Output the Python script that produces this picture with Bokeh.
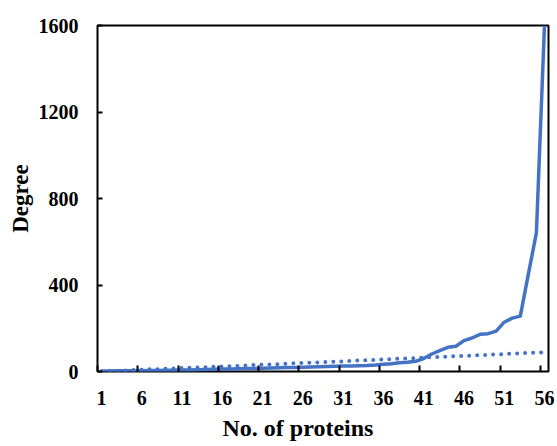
from bokeh.plotting import figure
from bokeh.models import FixedTicker, Range1d, Title
from bokeh.embed import file_html
from bokeh.resources import INLINE

# ---- data ----
proteins = [1, 2, 3, 4, 5, 6, 7, 8, 9, 10, 11, 12, 13, 14, 15, 16, 17, 18, 19, 20,
            21, 22, 23, 24, 25, 26, 27, 28, 29, 30, 31, 32, 33, 34, 35, 36, 37, 38, 39, 40,
            41, 42, 43, 44, 45, 46, 47, 48, 49, 50, 51, 52, 53, 54, 55, 56]
degree = [2, 2, 3, 3, 4, 4, 5, 5, 6, 6,
          7, 7, 8, 9, 10, 11, 12, 13, 14, 14,
          15, 16, 17, 18, 19, 20, 21, 22, 23, 24,
          25, 26, 27, 28, 30, 33, 36, 40, 43, 47,
          60, 81, 97, 112, 117, 143, 155, 172, 175, 187,
          228, 247, 256, 450, 642, 1600]
trend = [1, 2, 4, 5, 7, 8, 10, 11, 13, 14,
         16, 17, 19, 20, 22, 23, 25, 26, 28, 30,
         31, 33, 34, 36, 38, 39, 41, 42, 44, 46,
         47, 49, 51, 52, 54, 56, 57, 59, 61, 62,
         64, 66, 67, 69, 71, 72, 74, 76, 77, 79,
         81, 82, 84, 86, 87, 89]
x_tick_labels = [1, 6, 11, 16, 21, 26, 31, 36, 41, 46, 51, 56]
y_ticks = [0, 400, 800, 1200, 1600]

FONT = "Liberation Serif"
BLUE = "#4472C4"

p = figure(width=557, height=446, output_backend="svg", toolbar_location=None,
           x_range=Range1d(0.5, 56.5), y_range=Range1d(0, 1600),
           min_border_left=97, min_border_right=9, min_border_top=25,
           min_border_bottom=73)
p.grid.visible = False
p.outline_line_color = "black"
p.outline_line_width = 2
p.background_fill_color = "white"
p.border_fill_color = "white"

p.line(proteins, trend, line_color=BLUE, line_width=4, line_dash="0 8",
       line_cap="round")
p.line(proteins, degree, line_color=BLUE, line_width=3.5, line_join="round")

# labels at category centres, tick marks (minor) at category boundaries
xa = p.xaxis[0]
xa.ticker = FixedTicker(ticks=x_tick_labels,
                        minor_ticks=[t - 0.5 for t in x_tick_labels])
xa.major_tick_line_color = None
xa.minor_tick_in = 6
xa.minor_tick_out = 0
xa.minor_tick_line_color = "black"
xa.minor_tick_line_width = 2
xa.axis_line_color = None
xa.major_label_standoff = 13
xa.major_label_text_font = FONT
xa.major_label_text_font_style = "bold"
xa.major_label_text_font_size = "20px"
xa.major_label_text_color = "black"

ya = p.yaxis[0]
ya.ticker = FixedTicker(ticks=y_ticks)
ya.major_tick_in = 5
ya.major_tick_out = 0
ya.minor_tick_line_color = None
ya.major_tick_line_color = "black"
ya.major_tick_line_width = 2
ya.axis_line_color = None
ya.major_label_standoff = 19
ya.major_label_text_font = FONT
ya.major_label_text_font_style = "bold"
ya.major_label_text_font_size = "20px"
ya.major_label_text_color = "black"
ya.axis_label = "Degree"
ya.axis_label_text_font = FONT
ya.axis_label_text_font_style = "bold"
ya.axis_label_text_font_size = "23px"
ya.axis_label_text_color = "black"
ya.axis_label_standoff = 3

p.add_layout(Title(text="No. of proteins", align="left", offset=125,
                   text_font=FONT, text_font_style="bold",
                   text_font_size="24px", text_color="black", standoff=11),
             "below")

open("out.html", "w").write(file_html(p, INLINE))
